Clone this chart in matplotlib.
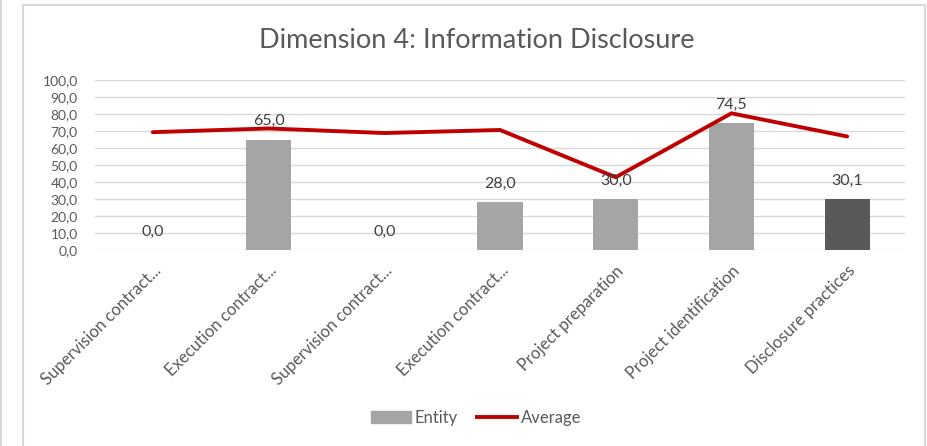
import matplotlib
matplotlib.use("Agg")
import matplotlib.pyplot as plt
from matplotlib.patches import Rectangle, Patch
from matplotlib.lines import Line2D
from matplotlib.transforms import ScaledTranslation

plt.rcParams['font.family'] = ['Lato', 'DejaVu Sans']

# Scores per item of the disclosure dimension
categories = ["Supervision contract...", "Execution contract...", "Supervision contract...",
              "Execution contract...", "Project preparation", "Project identification",
              "Disclosure practices"]
entity = [0.0, 65.0, 0.0, 28.0, 30.0, 74.5, 30.1]
average = [69.3, 71.5, 68.8, 70.6, 42.8, 80.4, 66.8]
bar_colors = ["#A5A5A5"] * 6 + ["#595959"]

W, H = 928, 446
fig = plt.figure(figsize=(W / 100, H / 100), dpi=100)

# chart frame
fig.add_artist(Rectangle((23 / W, -0.05), (925 - 23) / W, (H - 5) / H + 0.05,
                         transform=fig.transFigure, fill=False, ec="#D9D9D9", lw=1.5))
fig.add_artist(Line2D([1 / W, 1 / W], [0, 1], transform=fig.transFigure, color="#D9D9D9", lw=1.5))

ax = fig.add_axes([95 / W, (H - 250) / H, 810 / W, 170 / H])
x = list(range(len(categories)))
ax.bar(x, entity, width=0.39, color=bar_colors, zorder=2)
ax.plot(x, average, color="#C00000", lw=2.8, solid_capstyle="round", zorder=3)

for xi, v in zip(x, entity):
    ax.annotate(f"{v:.1f}".replace(".", ","), (xi, v), xytext=(0, 8), textcoords="offset points",
                ha="center", va="bottom", fontsize=11.5, color="#404040", zorder=4)

ax.set_xlim(-0.5, len(categories) - 0.5)
ax.set_ylim(0, 100)
ax.set_yticks(range(0, 101, 10))
ax.set_yticklabels([f"{t:.1f}".replace(".", ",") for t in range(0, 101, 10)],
                   fontsize=10, color="#595959")
ax.yaxis.grid(True, color="#D9D9D9", lw=1, zorder=0)
ax.set_xticks(x)
ax.set_xticklabels(categories, rotation=45, ha="right", rotation_mode="anchor",
                   fontsize=12, color="#595959")
shift = ScaledTranslation(8 / 100, 0, fig.dpi_scale_trans)
for lab in ax.get_xticklabels():
    lab.set_transform(lab.get_transform() + shift)
ax.tick_params(axis="x", length=0, pad=9)
ax.tick_params(axis="y", length=0, pad=12.5)
for s in ax.spines.values():
    s.set_visible(False)

fig.text(477 / W, 1 - 40 / H, "Dimension 4: Information Disclosure", ha="center", va="center",
         fontsize=19.5, color="#595959")

handles = [Patch(color="#A5A5A5"), Line2D([], [], color="#C00000", lw=2.8)]
fig.legend(handles, ["Entity", "Average"], loc="center", bbox_to_anchor=(476 / W, 1 - 418 / H),
           ncol=2, frameon=False, fontsize=12, labelcolor="#595959", handlelength=2.4,
           handletextpad=0.2, columnspacing=1.2)

fig.savefig("out.png", dpi=100)
